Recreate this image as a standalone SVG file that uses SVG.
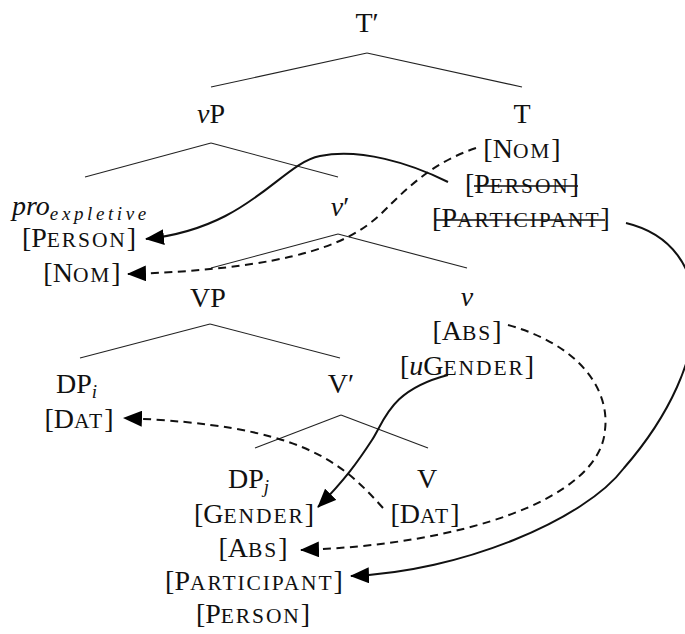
<svg xmlns="http://www.w3.org/2000/svg" width="685" height="634" viewBox="0 0 685 634">
<defs>
<style>
.t{font-family:"Liberation Serif","Times New Roman",serif;font-size:28px;fill:#111;text-anchor:middle}
.s{text-anchor:start}
.sc{font-size:21.5px;letter-spacing:1.9px}
.it{font-style:italic}
.sub{font-size:19px;font-style:italic}
.tree line{stroke:#222;stroke-width:1.1}
.strike{stroke:#111;stroke-width:1.5}
.c{fill:none;stroke:#111;stroke-width:2}
.d{stroke-dasharray:8 5.5}
</style>
<marker id="ah" viewBox="0 0 19 16" refX="18" refY="8" markerWidth="19" markerHeight="16" markerUnits="userSpaceOnUse" orient="auto">
<path d="M0,0 L19,8 L0,16 z" fill="#000"/>
</marker>
</defs>
<rect width="685" height="634" fill="#fff"/>
<g class="tree" id="tree-lines">
<line x1="367" y1="53" x2="211" y2="87"/><line x1="367" y1="53" x2="522" y2="87"/>
<line x1="211" y1="143" x2="85" y2="177"/><line x1="211" y1="143" x2="338" y2="177"/>
<line x1="338" y1="234" x2="211" y2="268"/><line x1="338" y1="234" x2="467" y2="268"/>
<line x1="210" y1="324" x2="80" y2="358"/><line x1="210" y1="324" x2="340" y2="358"/>
<line x1="341" y1="415" x2="255" y2="448"/><line x1="341" y1="415" x2="428" y2="448"/>
</g>
<g id="n-Tbar"><text class="t" x="367" y="32">T′</text></g>
<g id="n-vP"><text class="t" x="211" y="123"><tspan class="it">v</tspan>P</text></g>
<g id="n-T">
<text class="t" x="522" y="123">T</text>
<text class="t" x="522" y="158">[N<tspan class="sc">OM</tspan>]</text>
<text class="t" x="522" y="193">[P<tspan class="sc">ERSON</tspan>]</text>
<line class="strike" x1="474" y1="186" x2="578" y2="186"/>
<text class="t" x="521" y="227">[P<tspan class="sc">ARTICIPANT</tspan>]</text>
<line class="strike" x1="436" y1="220" x2="605" y2="220"/>
</g>
<g id="n-pro">
<text class="t s" x="12" y="215"><tspan class="it">pro</tspan><tspan class="sub" font-size="21" letter-spacing="3.6" dy="5">expletive</tspan></text>
<text class="t" x="79" y="247">[P<tspan class="sc">ERSON</tspan>]</text>
<text class="t" x="82" y="282">[N<tspan class="sc">OM</tspan>]</text>
</g>
<g id="n-vbar"><text class="t" x="340" y="216"><tspan class="it">v</tspan>′</text></g>
<g id="n-VP"><text class="t" x="208" y="307">VP</text></g>
<g id="n-v">
<text class="t it" x="467" y="306">v</text>
<text class="t" x="467" y="340">[A<tspan class="sc">BS</tspan>]</text>
<text class="t" x="467" y="375">[<tspan class="it">u</tspan>G<tspan class="sc">ENDER</tspan>]</text>
</g>
<g id="n-DPi">
<text class="t s" x="56" y="393">DP<tspan class="sub" dy="5">i</tspan></text>
<text class="t" x="79" y="428">[D<tspan class="sc">AT</tspan>]</text>
</g>
<g id="n-Vbar"><text class="t" x="341" y="393">V′</text></g>
<g id="n-DPj">
<text class="t s" x="228" y="488">DP<tspan class="sub" dy="5">j</tspan></text>
<text class="t" x="254" y="523">[G<tspan class="sc">ENDER</tspan>]</text>
<text class="t" x="253" y="557">[A<tspan class="sc">BS</tspan>]</text>
<text class="t" x="254" y="590">[P<tspan class="sc">ARTICIPANT</tspan>]</text>
<text class="t" x="253" y="623">[P<tspan class="sc">ERSON</tspan>]</text>
</g>
<g id="n-V">
<text class="t" x="427" y="488">V</text>
<text class="t" x="425" y="523">[D<tspan class="sc">AT</tspan>]</text>
</g>
<g id="connectors">
<path class="c" d="M448,182 C410,163 360,148 320,156 C280,164 250,228 146,239" marker-end="url(#ah)"/>
<path class="c d" d="M476,148 C440,160 415,180 390,205 S330,268 128,274" marker-end="url(#ah)"/>
<path class="c" d="M626,223 C718,245 718,360 624,468 C585,520 460,572 351,576" marker-end="url(#ah)"/>
<path class="c d" d="M508,325 C580,345 610,390 605,430 C600,500 460,545 301,550" marker-end="url(#ah)"/>
<path class="c" d="M448,375 C390,390 385,420 372,440 S345,480 318,507" marker-end="url(#ah)"/>
<path class="c d" d="M383,508 C340,460 300,425 124,418" marker-end="url(#ah)"/>
</g>
</svg>
